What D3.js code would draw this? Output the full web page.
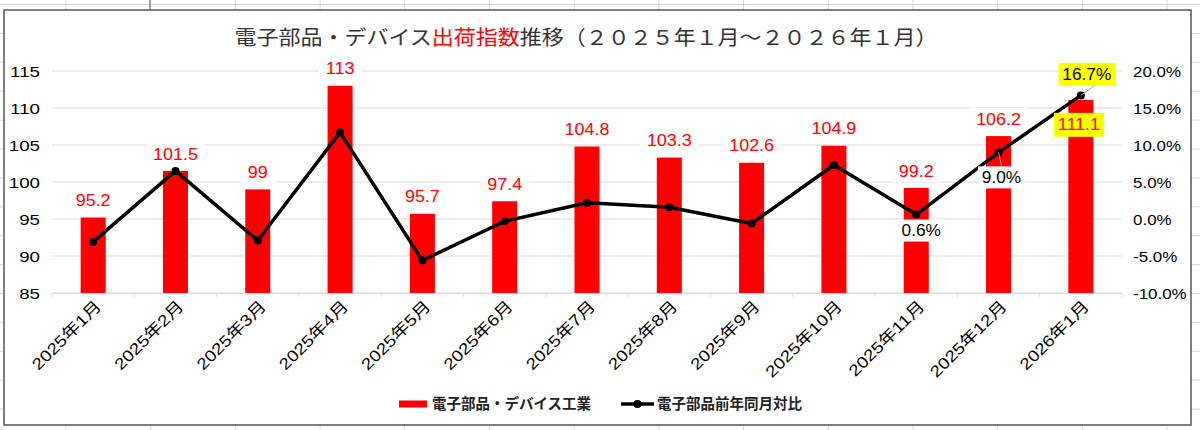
<!DOCTYPE html>
<html>
<head>
<meta charset="utf-8">
<script src="https://cdn.jsdelivr.net/npm/d3@7/dist/d3.min.js"></script>
<style>
  body { margin: 0; background: #fff; }
  svg { display: block; }
  .num { font-family: "Liberation Sans", Arial, "Noto Sans CJK JP", sans-serif; }
  .jp { font-family: "Noto Sans CJK JP", "Liberation Sans", sans-serif; }
</style>
</head>
<body>
<svg id="chart" width="1200" height="430"></svg>
<script>
// 月
const months = ['2025年1月','2025年2月','2025年3月','2025年4月','2025年5月','2025年6月','2025年7月',
                '2025年8月','2025年9月','2025年10月','2025年11月','2025年12月','2026年1月']
// 出荷指数
const indexValues = [95.2, 101.5, 99, 113, 95.7, 97.4, 104.8, 103.3, 102.6, 104.9, 99.2, 106.2, 111.1]
// 前年同月比 (%)
const yoyValues = [-3.1, 6.5, -2.9, 11.7, -5.6, -0.3, 2.2, 1.6, -0.6, 7.3, 0.6, 9.0, 16.7]
const leftTicks = [85, 90, 95, 100, 105, 110, 115]
const rightTicks = [-10, -5, 0, 5, 10, 15, 20]
const titleParts = [
    { text: '電子部品・デバイス', red: false },
    { text: '出荷指数', red: true },
    { text: '推移（２０２５年１月～２０２６年１月）', red: false }
]
const legendBar = '電子部品・デバイス工業'
const legendLine = '電子部品前年同月対比'

const RED = '#ff0000'
const svg = d3.select('#chart')

// シートの罫線
const sheet = svg.append('g')
d3.range(0, 14).forEach(k => {
    sheet.append('line').attr('x1', 66 + k * 84.7).attr('x2', 66 + k * 84.7)
        .attr('y1', 0).attr('y2', 430).attr('stroke', '#d6d6d6')
})
d3.range(0, 15).forEach(k => {
    sheet.append('line').attr('x1', 0).attr('x2', 1200)
        .attr('y1', 4.5 + k * 28.9).attr('y2', 4.5 + k * 28.9).attr('stroke', '#d6d6d6')
})
sheet.append('line').attr('x1', 150).attr('x2', 150).attr('y1', 0).attr('y2', 10)
    .attr('stroke', '#888').attr('stroke-width', 1.5)

// グラフ枠
svg.append('rect').attr('x', 4).attr('y', 10).attr('width', 1187).attr('height', 415)
    .attr('fill', '#fff').attr('stroke', '#555').attr('stroke-width', 1.5)

const x = d3.scaleBand().domain(months).range([52, 1122]).paddingInner(0.696).paddingOuter(0.348)
const yL = d3.scaleLinear().domain([85, 115]).range([293, 71])
const yR = d3.scaleLinear().domain([-10, 20]).range([293, 71])
const cx = m => x(m) + x.bandwidth() / 2

// 目盛線
svg.append('g').selectAll('line').data(leftTicks).enter().append('line')
    .attr('x1', 52).attr('x2', 1122)
    .attr('y1', d => yL(d)).attr('y2', d => yL(d))
    .attr('stroke', '#d9d9d9')

// 区切り目盛
svg.append('g').selectAll('line').data(d3.range(0, months.length + 1)).enter().append('line')
    .attr('x1', i => 52 + i * x.step()).attr('x2', i => 52 + i * x.step())
    .attr('y1', 293).attr('y2', 297).attr('stroke', '#d9d9d9')

// 左軸
const axL = svg.append('g').attr('class', 'num').attr('transform', 'translate(52,0)')
    .call(d3.axisLeft(yL).tickValues(leftTicks).tickSize(0))
axL.select('.domain').remove()
axL.selectAll('text').attr('x', 0).attr('dy', '0.35em')
    .attr('transform', 'translate(-12,0) scale(1.25,1)')
    .style('font-size', '15px').attr('fill', '#000')

// 右軸
const axR = svg.append('g').attr('class', 'num').attr('transform', 'translate(1122,0)')
    .call(d3.axisRight(yR).tickValues(rightTicks).tickSize(0).tickFormat(d => d.toFixed(1) + '%'))
axR.select('.domain').remove()
axR.selectAll('text').attr('x', 0).attr('dy', '0.35em')
    .attr('transform', 'translate(11,0) scale(1.13,1)')
    .style('font-size', '15px').attr('fill', '#000')

// 横軸
const axB = svg.append('g').attr('class', 'num').attr('transform', 'translate(0,293)')
    .call(d3.axisBottom(x).tickSize(0))
axB.select('.domain').attr('stroke', '#d9d9d9')
axB.selectAll('text')
    .attr('x', -3).attr('y', 11).attr('dy', '0.35em')
    .attr('text-anchor', 'end')
    .attr('transform', 'rotate(-45) scale(1.18,1)')
    .style('font-size', '16px').attr('fill', '#000')

// 棒
svg.append('g').selectAll('rect').data(indexValues).enter().append('rect')
    .attr('x', (d, i) => x(months[i]))
    .attr('y', d => yL(d))
    .attr('width', x.bandwidth())
    .attr('height', d => 293 - yL(d))
    .attr('fill', RED)

// 折れ線
const line = d3.line().x((d, i) => cx(months[i])).y(d => yR(d))
svg.append('path').datum(yoyValues)
    .attr('d', line).attr('fill', 'none')
    .attr('stroke', '#000').attr('stroke-width', 3.5).attr('stroke-linejoin', 'round')
svg.append('g').selectAll('circle').data(yoyValues).enter().append('circle')
    .attr('cx', (d, i) => cx(months[i])).attr('cy', d => yR(d))
    .attr('r', 4).attr('fill', '#000')

// ラベル
function addLabel(px, py, txt, opt) {
    const g = svg.append('g').attr('class', 'num')
        .attr('transform', `translate(${px},${py}) scale(${opt.sx},1)`)
    const rect = g.append('rect')
    const t = g.append('text').text(txt)
        .attr('text-anchor', 'middle').attr('dy', '0.35em')
        .style('font-size', opt.size + 'px').attr('fill', opt.color)
    const w = t.node().getComputedTextLength()
    rect.attr('x', -w / 2 - opt.padX).attr('y', -opt.h / 2)
        .attr('width', w + opt.padX * 2).attr('height', opt.h)
        .attr('fill', opt.bg)
}

indexValues.forEach((v, i) => {
    const last = i === indexValues.length - 1
    const py = last ? yL(v) + 25 : yL(v) - 17
    addLabel(cx(months[i]) - (last ? 2 : 0), py, String(v), {
        sx: 1.12, size: 16, color: RED, bg: last ? '#ffff00' : '#fff',
        padX: last ? 3.5 : 6, h: last ? 24 : 22
    })
})

// 前年同月比ラベル（直近3か月）
const yoyLabelPos = { 10: [5, 16, false], 11: [3, 25, false], 12: [6, -21, true] }
Object.keys(yoyLabelPos).forEach(k => {
    const i = +k
    const [dx, dy, hi] = yoyLabelPos[k]
    const px = cx(months[i]), py = yR(yoyValues[i])
    if (Math.abs(dy) > 20) {
        svg.append('line').attr('x1', px).attr('y1', py)
            .attr('x2', px + dx + (hi ? 8 : 0)).attr('y2', py + dy + (dy > 0 ? -11 : 11))
            .attr('stroke', '#a6a6a6').attr('stroke-width', 1)
    }
    addLabel(px + dx, py + dy, yoyValues[i].toFixed(1) + '%', {
        sx: 1.08, size: 16, color: '#000', bg: hi ? '#ffff00' : '#fff',
        padX: 3.5, h: hi ? 23 : 22
    })
})

// タイトル
const title = svg.append('text').attr('class', 'jp')
    .attr('text-anchor', 'middle').attr('dy', '0.35em')
    .attr('transform', 'translate(586,38) scale(1.1,1)')
    .style('font-size', '20px')
title.selectAll('tspan').data(titleParts).enter().append('tspan')
    .text(d => d.text).attr('fill', d => d.red ? RED : '#333')

// 凡例
const lg = svg.append('g').attr('class', 'jp')
lg.append('rect').attr('x', 399).attr('y', 400.5).attr('width', 28).attr('height', 7).attr('fill', RED)
lg.append('text').attr('x', 432).attr('y', 404).attr('dy', '0.35em')
    .style('font-size', '14.5px').style('font-weight', 'bold').attr('fill', '#222').text(legendBar)
lg.append('line').attr('x1', 621).attr('x2', 654).attr('y1', 404).attr('y2', 404)
    .attr('stroke', '#000').attr('stroke-width', 3.5)
lg.append('circle').attr('cx', 637.5).attr('cy', 404).attr('r', 4).attr('fill', '#000')
lg.append('text').attr('x', 657).attr('y', 404).attr('dy', '0.35em')
    .style('font-size', '14.5px').style('font-weight', 'bold').attr('fill', '#222').text(legendLine)
</script>
</body>
</html>
